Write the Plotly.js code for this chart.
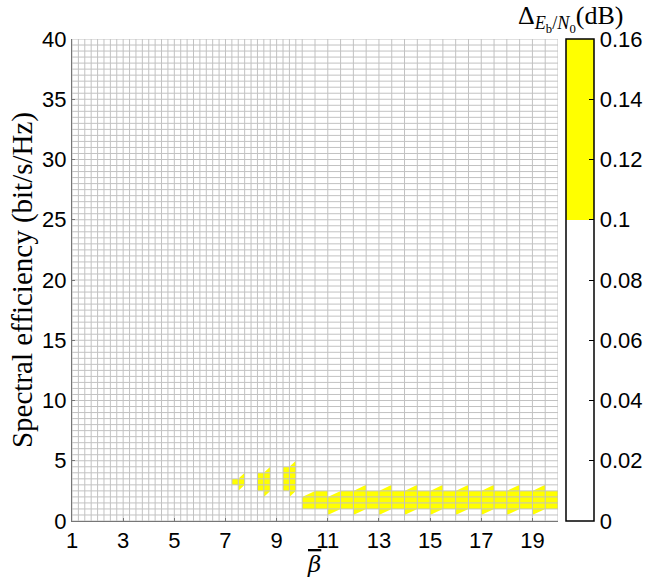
<!DOCTYPE html>
<html>
<head>
<meta charset="utf-8">
<script src="https://cdn.plot.ly/plotly-3.0.1.min.js"></script>
<style>
  html, body { margin: 0; padding: 0; background: #ffffff; }
  #chart { width: 649px; height: 588px; }
</style>
</head>
<body>
<div id="chart"></div>
<script>
// ---- Surface sampling grid (beta-bar and spectral efficiency) ----
const xFineStart = 1, xFineEnd = 10, xFineStep = 0.25;   // fine grid below beta = 10
const xCoarseEnd = 20, xCoarseStep = 0.5;                // coarse grid above beta = 10
const yStart = 0, yEnd = 40, yStep = 0.5;

// ---- Cells where Delta Eb/N0 exceeds 0.1 dB (rectangular blocks) ----
const blockX0 = [7.25, 8.25, 9.25, 10, 10.5, 11.5];
const blockX1 = [7.75, 8.75, 9.75, 20, 11, 20];
const blockY0 = [3, 2.5, 2.5, 1, 2, 2];
const blockY1 = [3.5, 4, 4.5, 2, 2.5, 2.5];
const blockVal = [0.11, 0.12, 0.12, 0.13, 0.12, 0.12];
const baseVal = 0.04;   // white region (< 0.1 dB)

// ---- Half-filled (triangular) boundary cells ----
const triX = [7.5, 8.5, 9.5, 10, 11, 12, 13, 14, 15, 16, 17, 18, 19,
              7.5, 8.5, 9.5, 11, 12, 13, 14, 15, 16, 17, 18, 19];
const triY = [3.5, 4, 4.5, 2, 2, 2.5, 2.5, 2.5, 2.5, 2.5, 2.5, 2.5, 2.5,
              2.5, 2, 2, 0.5, 0.5, 0.5, 0.5, 0.5, 0.5, 0.5, 0.5, 0.5];
const triType = ['lr','lr','lr','lr','lr','lr','lr','lr','lr','lr','lr','lr','lr',
                 'ul','ul','ul','ul','ul','ul','ul','ul','ul','ul','ul','ul'];

// ---- Tick labels ----
const xTicks = [1, 3, 5, 7, 9, 11, 13, 15, 17, 19];
const yTicks = [0, 5, 10, 15, 20, 25, 30, 35, 40];
const cTicks = [0, 0.02, 0.04, 0.06, 0.08, 0.1, 0.12, 0.14, 0.16];

// ---------------- build grid ----------------
const xEdges = [];
for (let i = 0; i <= Math.round((xFineEnd - xFineStart) / xFineStep); i++) xEdges.push(xFineStart + i * xFineStep);
for (let i = 1; i <= Math.round((xCoarseEnd - xFineEnd) / xCoarseStep); i++) xEdges.push(xFineEnd + i * xCoarseStep);
const yEdges = [];
for (let i = 0; i <= Math.round((yEnd - yStart) / yStep); i++) yEdges.push(yStart + i * yStep);

const z = [];
for (let r = 0; r < yEdges.length - 1; r++) {
  const yc = (yEdges[r] + yEdges[r + 1]) / 2;
  const row = [];
  for (let c = 0; c < xEdges.length - 1; c++) {
    const xc = (xEdges[c] + xEdges[c + 1]) / 2;
    let v = baseVal;
    for (let b = 0; b < blockX0.length; b++) {
      if (xc > blockX0[b] && xc < blockX1[b] && yc > blockY0[b] && yc < blockY1[b]) v = blockVal[b];
    }
    row.push(v);
  }
  z.push(row);
}

function nextEdge(arr, v) {
  for (let i = 0; i < arr.length; i++) if (arr[i] > v + 1e-9) return arr[i];
  return arr[arr.length - 1];
}

const tx = [], ty = [];
for (let i = 0; i < triX.length; i++) {
  const x0 = triX[i], y0 = triY[i];
  const x1 = nextEdge(xEdges, x0), y1 = nextEdge(yEdges, y0);
  if (triType[i] === 'lr') { tx.push(x0, x1, x1, x0, null); ty.push(y0, y0, y1, y0, null); }
  else { tx.push(x0, x0, x1, x0, null); ty.push(y0, y1, y1, y0, null); }
}

const gx = [], gy = [];
xEdges.forEach(x => { gx.push(x, x, null); gy.push(yStart, yEnd, null); });
yEdges.forEach(y => { gx.push(xFineStart, xCoarseEnd, null); gy.push(y, y, null); });

const tickFont = { family: 'Liberation Sans, Arial, sans-serif', size: 22, color: '#000000' };

const heat = {
  type: 'heatmap',
  x: xEdges,
  y: yEdges,
  z: z,
  zmin: 0, zmax: 0.16,
  colorscale: [[0, '#ffffff'], [0.625, '#ffffff'], [0.625, '#ffff00'], [1, '#ffff00']],
  hoverinfo: 'skip',
  colorbar: {
    x: 1.0165, xanchor: 'left', xpad: 0,
    y: 0.5, yanchor: 'middle', ypad: 0, len: 1, lenmode: 'fraction',
    thickness: 28,
    outlinewidth: 1.5, outlinecolor: '#000000',
    tickmode: 'array', tickvals: cTicks,
    ticks: 'inside', ticklen: 5, tickcolor: '#000000',
    tickfont: tickFont
  }
};

const tris = {
  type: 'scatter', mode: 'lines',
  x: tx, y: ty, fill: 'toself', fillcolor: '#ffff00',
  line: { width: 0, color: '#ffff00' },
  hoverinfo: 'skip', showlegend: false
};

const grid = {
  type: 'scatter', mode: 'lines',
  x: gx, y: gy,
  line: { width: 1, color: '#c2c2c2' },
  connectgaps: false,
  hoverinfo: 'skip', showlegend: false
};

const layout = {
  width: 649, height: 588,
  margin: { l: 72, r: 91, t: 39, b: 67, pad: 0, autoexpand: false },
  paper_bgcolor: '#ffffff', plot_bgcolor: '#ffffff',
  showlegend: false,
  xaxis: {
    range: [1, 20], tickmode: 'array', tickvals: xTicks,
    showgrid: false, zeroline: false, showline: true, linecolor: '#777777', linewidth: 1,
    ticks: 'inside', ticklen: 3, tickcolor: '#777777',
    tickfont: tickFont, automargin: false
  },
  yaxis: {
    range: [0, 40], tickmode: 'array', tickvals: yTicks,
    showgrid: false, zeroline: false, showline: true, linecolor: '#777777', linewidth: 1,
    ticks: 'inside', ticklen: 3, tickcolor: '#777777',
    tickfont: tickFont, automargin: false,
    title: { text: 'Spectral efficiency (bit/s/Hz)', font: { family: 'Liberation Serif, serif', size: 29, color: '#000000' }, standoff: 0 }
  },
  annotations: [{
    xref: 'paper', yref: 'paper', x: 0.497, y: -0.09,
    xanchor: 'center', yanchor: 'middle', showarrow: false,
    text: '<span style="text-decoration:overline"><i>β</i></span>',
    font: { family: 'DejaVu Serif, Liberation Serif, serif', size: 23, color: '#000000' }
  }, {
    xref: 'paper', yref: 'paper', x: 1.0267, y: 1.042,
    xanchor: 'center', yanchor: 'middle', showarrow: false,
    text: 'Δ<sub><i>E</i><sub>b</sub>/<i>N</i><sub>0</sub></sub>(dB)',
    font: { family: 'Liberation Serif, serif', size: 26, color: '#000000' }
  }]
};

Plotly.newPlot('chart', [heat, tris, grid], layout, { displayModeBar: false, staticPlot: true });
</script>
</body>
</html>
